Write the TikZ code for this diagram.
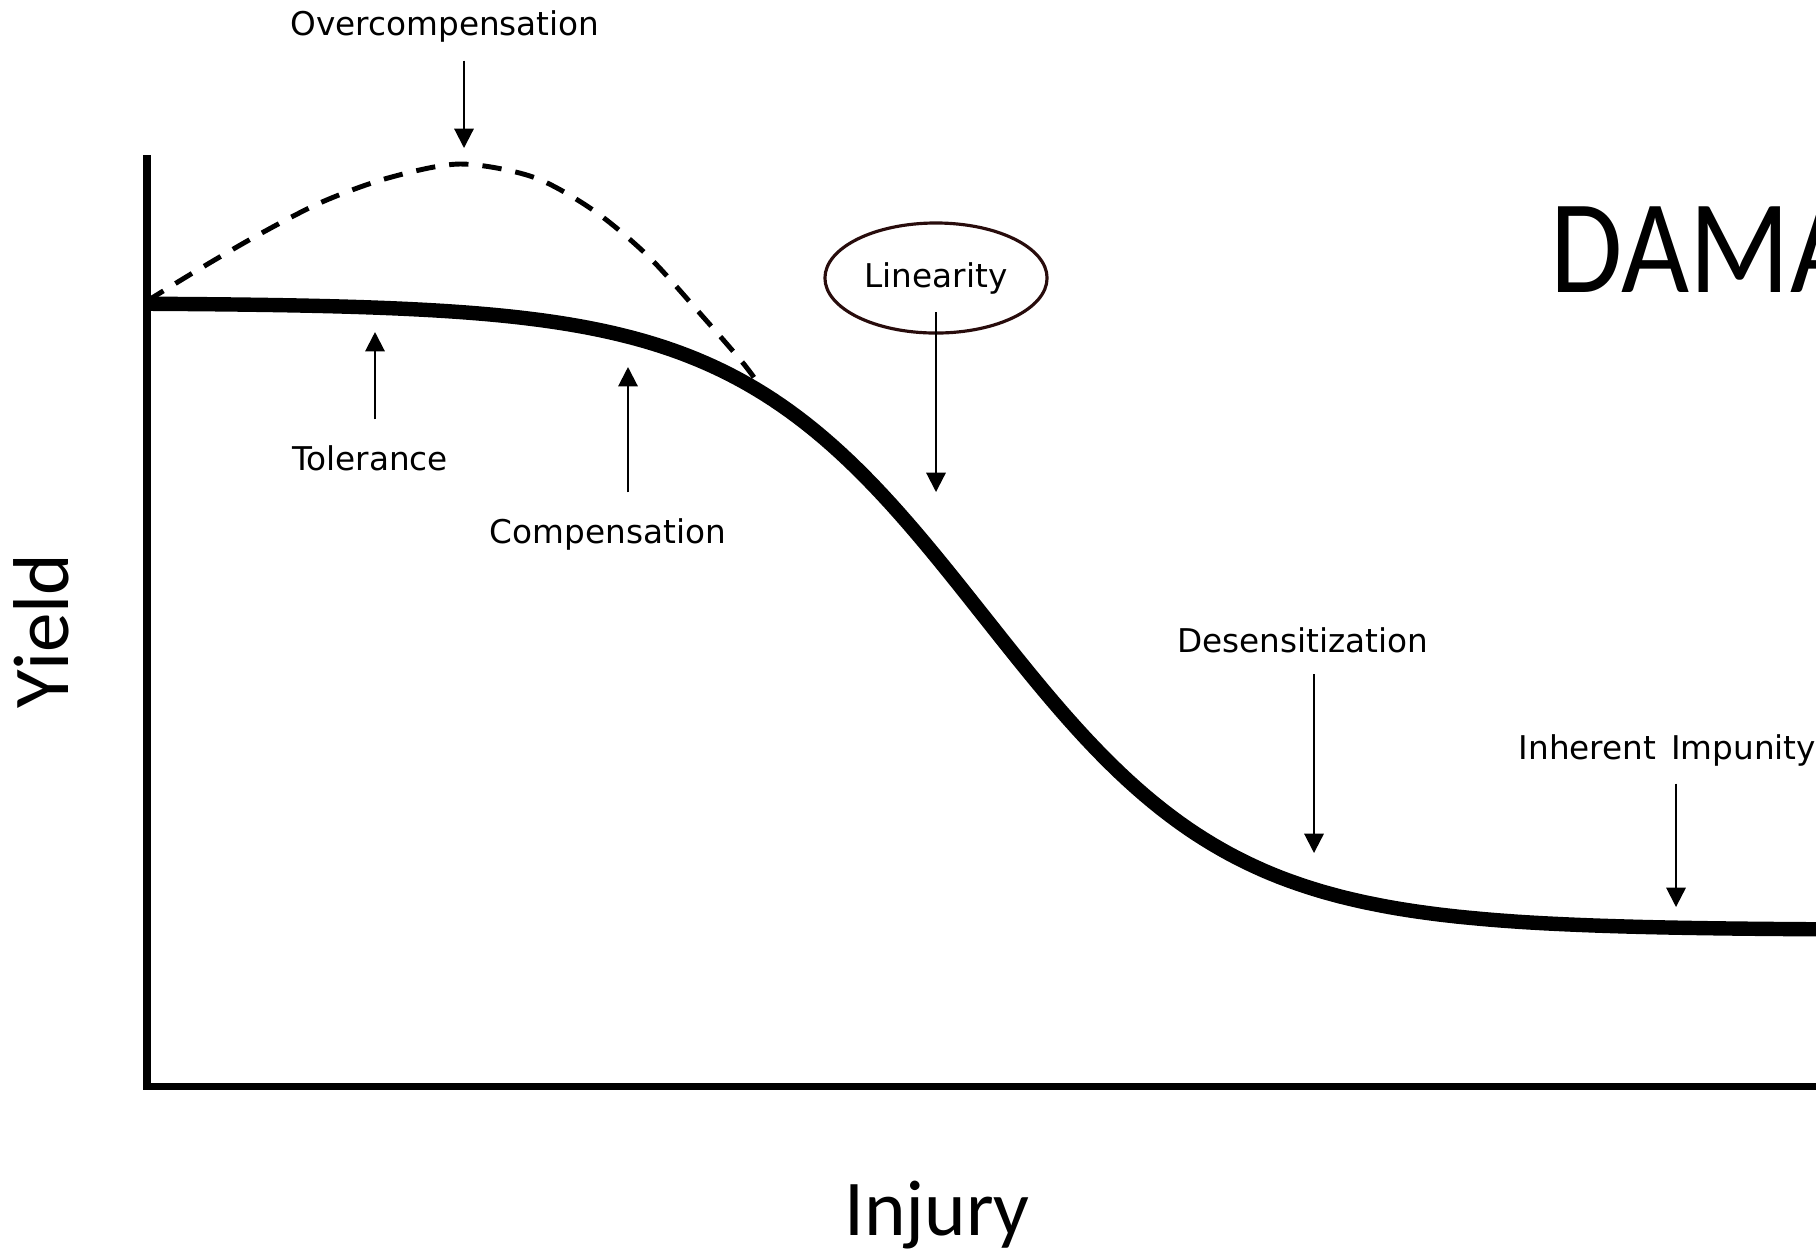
\documentclass[tikz,border=0pt]{standalone}
\usepackage{fontspec}
\setmainfont{DejaVu Sans}
\newfontfamily\calibrifont{Carlito}
\newfontfamily\damafont[FakeStretch=0.88]{Carlito}
\usetikzlibrary{arrows.meta, shapes.geometric}
\definecolor{ovalline}{RGB}{40,12,12}

\begin{document}
\begin{tikzpicture}[
    x=0.01cm, y=-0.01cm,
    axis/.style={line width=2pt},
    response/.style={line width=4.1pt, line join=round},
    overshoot/.style={line width=1.4pt, dash pattern=on 5.5pt off 4pt},
    phase/.style={inner sep=0pt, anchor=base, font=\fontsize{9.3}{11}\selectfont},
    pointer/.style={-{Triangle[length=5.5pt, width=5.5pt]}, line width=0.6pt},
    oval/.style={draw=ovalline, line width=0.9pt, ellipse, minimum width=2.22cm, minimum height=1.1cm, inner sep=0pt, font=\fontsize{9.3}{11}\selectfont},
    bigtitle/.style={inner sep=0pt, anchor=base, font=\calibrifont\fontsize{22.5}{27}\selectfont}
]
\useasboundingbox (0,0) rectangle (1816,1250);
\clip (0,0) rectangle (1816,1250);

% Axes
\coordinate (ytop) at (147,155);
\coordinate (origin) at (147,1086);
\coordinate (xend) at (1830,1086);
\draw[axis] (ytop) -- (origin) -- (xend);

% Yield curves
\draw[overshoot] plot[smooth] coordinates {(147,301) (196,271) (258,235) (322,202) (388,178) (460,164) (533,177) (593,210) (647,255) (697,310) (743,363) (765,393)};
\draw[response] plot[domain=147:1830, samples=200] (\x, {303 + 627/(1 + exp(-(\x - 984)/124))});

% Labels
\node[phase] (overcomp) at (445,35) {Overcompensation};
\node[phase] (tolerance) at (370,470) {Tolerance};
\node[phase] (compensation) at (608,543) {Compensation};
\node[oval] (linearity) at (936,278) {Linearity};
\node[phase] (desens) at (1303,652) {Desensitization};
\node[phase, anchor=base west] (impunity) at (1518,759) {Inherent\hspace{4.2pt}Impunity};

\node[bigtitle, rotate=90] (yield) at (68,631) {Yield};
\node[bigtitle] (injury) at (937,1235) {Injury};
\node[inner sep=0pt, anchor=base west, font=\damafont\fontsize{38}{46}\selectfont] (damage) at (1550,292) {DAMA};

% Arrow tips on the curves
\coordinate (overTip) at (464,148);
\coordinate (tolTip) at (375,332);
\coordinate (compTip) at (628,367);
\coordinate (linTip) at (936,492);
\coordinate (desTip) at (1314,853);
\coordinate (impTip) at (1676,907);

% Arrows
\draw[pointer, shorten <=0.18cm] (overcomp.south -| overTip) -- (overTip);
\draw[pointer, shorten <=0.25cm] (tolerance.north -| tolTip) -- (tolTip);
\draw[pointer, shorten <=0.25cm] (compensation.north -| compTip) -- (compTip);
\draw[pointer] ([yshift=-0.34cm]linearity.center) -- (linTip);
\draw[pointer, shorten <=0.21cm] (desens.south -| desTip) -- (desTip);
\draw[pointer, shorten <=0.17cm] (impunity.south -| impTip) -- (impTip);

\end{tikzpicture}
\end{document}
